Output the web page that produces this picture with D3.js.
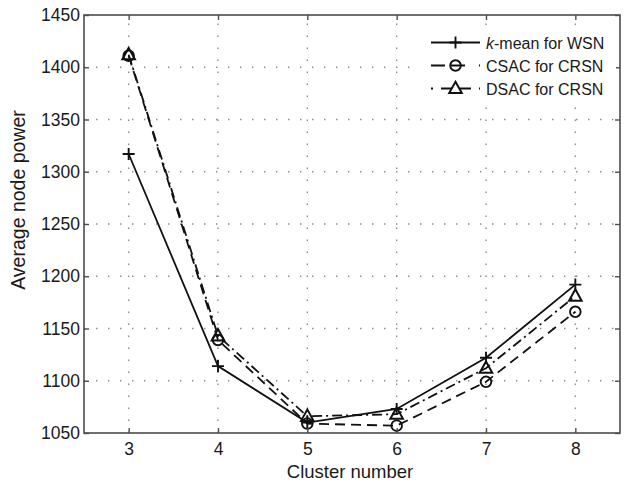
<!DOCTYPE html>
<html>
<head>
<meta charset="utf-8">
<script src="https://cdn.jsdelivr.net/npm/d3@7"></script>
<style>
  html, body { margin: 0; padding: 0; background: #fff; }
  svg { display: block; }
  text { font-family: "Liberation Sans", Arial, Helvetica, sans-serif; fill: #1a1a1a; }
</style>
</head>
<body>
<svg id="chart" width="624" height="486"></svg>
<script>
// ---- data ----
const clusters = [3, 4, 5, 6, 7, 8];
const kmeanWSN = [1317, 1114, 1060, 1073, 1122, 1192];
const csacCRSN = [1411, 1139, 1059, 1057, 1099, 1166];
const dsacCRSN = [1412, 1143, 1066, 1068, 1112, 1181];
const yTicks = [1050, 1100, 1150, 1200, 1250, 1300, 1350, 1400, 1450];
const seriesNames = ["k-mean for WSN", "CSAC for CRSN", "DSAC for CRSN"];
const xLabel = "Cluster number";
const yLabel = "Average node power";

// ---- layout ----
const L = 84, R = 620, T = 15, B = 433;
const svg = d3.select("#chart");
const x = d3.scaleLinear().domain([2.5, 8.5]).range([L, R]);
const y = d3.scaleLinear().domain([1050, 1450]).range([B, T]);

const frameColor = "#4d4d4d";
const lineColor = "#111";
const lw = 1.8;

// grid
const grid = svg.append("g");
grid.selectAll("line.vx").data(clusters).enter().append("line")
  .attr("x1", d => x(d)).attr("x2", d => x(d)).attr("y1", B).attr("y2", T)
  .attr("stroke", "#8a8a8a").attr("stroke-width", 1.4).attr("stroke-dasharray", "1.4,10.6");
grid.selectAll("line.hy").data(yTicks.slice(1, -1)).enter().append("line")
  .attr("y1", d => y(d)).attr("y2", d => y(d)).attr("x1", L).attr("x2", R)
  .attr("stroke", "#8a8a8a").attr("stroke-width", 1.4).attr("stroke-dasharray", "1.4,10.6");

// series
const series = [
  { name: seriesNames[0], values: kmeanWSN, dash: null, marker: "plus" },
  { name: seriesNames[1], values: csacCRSN, dash: "10,6", marker: "circle" },
  { name: seriesNames[2], values: dsacCRSN, dash: "10,4,2,4", marker: "triangle" }
];

const line = d3.line().x((d, i) => x(clusters[i])).y(d => y(d));

function drawMarker(g, type, cx, cy) {
  if (type === "plus") {
    g.append("path").attr("d", `M${cx-6},${cy}H${cx+6}M${cx},${cy-6}V${cy+6}`)
      .attr("stroke", lineColor).attr("stroke-width", 1.9).attr("fill", "none");
  } else if (type === "circle") {
    g.append("circle").attr("cx", cx).attr("cy", cy).attr("r", 5.3)
      .attr("stroke", lineColor).attr("stroke-width", 1.9).attr("fill", "none");
  } else {
    g.append("path").attr("d", `M${cx},${cy-6.8}L${cx+6.3},${cy+4.6}L${cx-6.3},${cy+4.6}Z`)
      .attr("stroke", lineColor).attr("stroke-width", 2).attr("fill", "none")
      .attr("stroke-linejoin", "miter");
  }
}

const plot = svg.append("g");
series.forEach(s => {
  plot.append("path").datum(s.values).attr("d", line)
    .attr("fill", "none").attr("stroke", lineColor).attr("stroke-width", lw)
    .attr("stroke-dasharray", s.dash);
  s.values.forEach((v, i) => drawMarker(plot, s.marker, x(clusters[i]), y(v)));
});

// axes (MATLAB style inward ticks on all sides)
const axB = svg.append("g").attr("transform", `translate(0,${B})`)
  .call(d3.axisBottom(x).tickValues(clusters).tickFormat(d3.format("d"))
    .tickSizeInner(-5).tickSizeOuter(0).tickPadding(10));
const axT = svg.append("g").attr("transform", `translate(0,${T})`)
  .call(d3.axisTop(x).tickValues(clusters).tickFormat("")
    .tickSizeInner(-5).tickSizeOuter(0));
const axLft = svg.append("g").attr("transform", `translate(${L},0)`)
  .call(d3.axisLeft(y).tickValues(yTicks).tickFormat(d3.format("d"))
    .tickSizeInner(-5).tickSizeOuter(0).tickPadding(4));
const axRgt = svg.append("g").attr("transform", `translate(${R},0)`)
  .call(d3.axisRight(y).tickValues(yTicks).tickFormat("")
    .tickSizeInner(-5).tickSizeOuter(0));

[axB, axT, axLft, axRgt].forEach(a => {
  a.select(".domain").remove();
  a.selectAll(".tick line").attr("stroke", frameColor).attr("stroke-width", 1.4);
  a.selectAll(".tick text").attr("font-size", "17.5px").attr("fill", "#1a1a1a")
    .attr("font-family", "Liberation Sans, Arial, sans-serif");
});

// frame
svg.append("rect").attr("x", L).attr("y", T).attr("width", R - L).attr("height", B - T)
  .attr("fill", "none").attr("stroke", frameColor).attr("stroke-width", 1.6);

// axis labels
svg.append("text").attr("x", (L + R) / 2 - 2).attr("y", 478)
  .attr("text-anchor", "middle").attr("font-size", "18.5px").text(xLabel);
svg.append("text").attr("transform", `translate(25,${(T + B) / 2 - 24}) rotate(-90)`)
  .attr("text-anchor", "middle").attr("font-size", "19.5px").text(yLabel);

// legend
const lg = svg.append("g");
lg.append("rect").attr("x", 420).attr("y", 28).attr("width", 196).attr("height", 75)
  .attr("fill", "#fff");
const rowY = [42.5, 65.5, 88.5];
series.forEach((s, i) => {
  const yy = rowY[i];
  lg.append("line").attr("x1", 431).attr("x2", 480).attr("y1", yy).attr("y2", yy)
    .attr("stroke", lineColor).attr("stroke-width", lw)
    .attr("stroke-dasharray", s.dash ? (i === 1 ? "14,6,14" : "2,8,11,4,0,4,11,8,2") : null);
  drawMarker(lg, s.marker, 455.5, yy);
  const t = lg.append("text").attr("x", 486).attr("y", yy + 6).attr("font-size", "16px");
  if (i === 0) {
    t.append("tspan").attr("font-style", "italic").text("k");
    t.append("tspan").text("-mean for WSN");
  } else {
    t.text(s.name);
  }
});
</script>
</body>
</html>
